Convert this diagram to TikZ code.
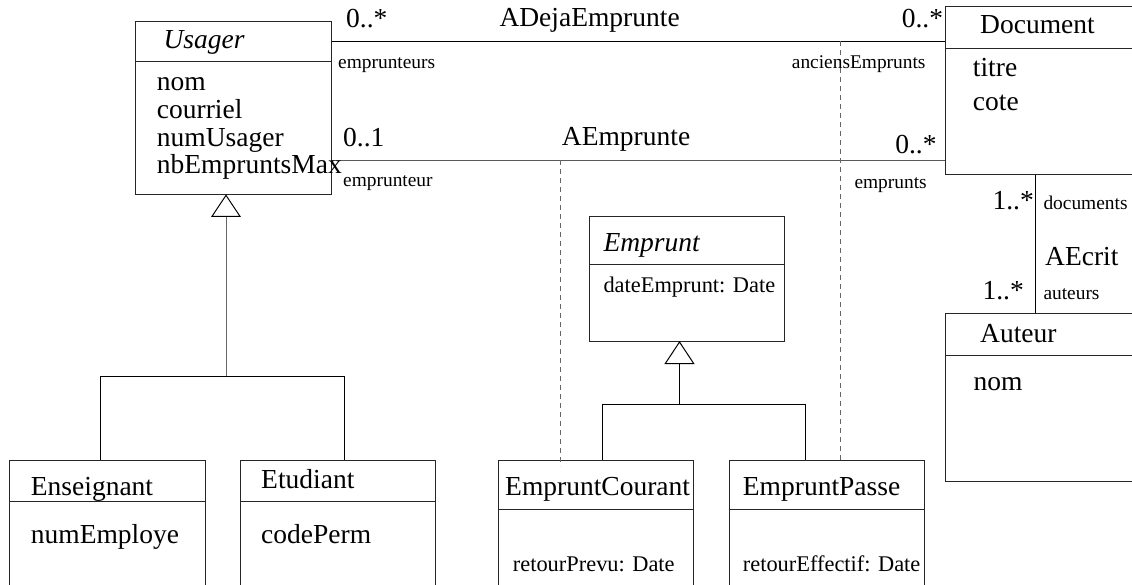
\documentclass[tikz,border=0pt]{standalone}
\usepackage{fontspec}
\setmainfont{Liberation Serif}
\newcommand\fbig{\fontsize{27.5}{30}\selectfont}
\newcommand\fmed{\fontsize{22.4}{25}\selectfont}
\newcommand\fsmall{\fontsize{19.4}{22}\selectfont}
\tikzset{
  umlbox/.style={draw=black!85, line width=1pt, inner sep=0pt, anchor=north west},
  hdr/.style={draw=black!85, line width=1pt},
  txt/.style={inner sep=0pt, anchor=base west, font=\fbig},
  itxt/.style={inner sep=0pt, anchor=base west, font=\fbig\itshape},
  mtxt/.style={inner sep=0pt, anchor=base west, font=\fmed},
  lbl/.style={inner sep=0pt, anchor=base west, font=\fsmall},
  assoc/.style={draw=black, line width=1pt},
  assocg/.style={draw=black!65, line width=1pt},
  dep/.style={draw=black!60, line width=1pt, dash pattern=on 5pt off 4pt},
  genl/.style={draw=black, line width=1pt},
  geng/.style={draw=black!60, line width=1pt},
}
\begin{document}
\begin{tikzpicture}[x=1pt,y=-1pt]
\useasboundingbox (0,0) rectangle (1132,584);
\fill[white] (0,0) rectangle (1132,584);
\clip (0,0) rectangle (1132,584);

% boxes
\node[umlbox, minimum width=195.7pt, minimum height=173.6pt] (usager) at (135,20.7) {};
\node[umlbox, minimum width=220pt, minimum height=167.5pt] (document) at (945,6) {};
\node[umlbox, minimum width=220pt, minimum height=167.7pt] (auteur) at (945,313.3) {};
\node[umlbox, minimum width=195.3pt, minimum height=125.3pt] (emprunt) at (589,215.7) {};
\node[umlbox, minimum width=195.7pt, minimum height=150pt] (enseignant) at (9.3,460) {};
\node[umlbox, minimum width=195pt, minimum height=150pt] (etudiant) at (240,460) {};
\node[umlbox, minimum width=195pt, minimum height=150pt] (courant) at (498.3,460) {};
\node[umlbox, minimum width=195.3pt, minimum height=150pt] (passe) at (728.7,460) {};

% header separators
\draw[hdr] (usager.west |- 0,61.7) -- (usager.east |- 0,61.7);
\draw[hdr] (document.west |- 0,48.3) -- (document.east |- 0,48.3);
\draw[hdr] (auteur.west |- 0,355) -- (auteur.east |- 0,355);
\draw[hdr] (emprunt.west |- 0,264.3) -- (emprunt.east |- 0,264.3);
\draw[hdr] (enseignant.west |- 0,501.7) -- (enseignant.east |- 0,501.7);
\draw[hdr] (etudiant.west |- 0,501.7) -- (etudiant.east |- 0,501.7);
\draw[hdr] (courant.west |- 0,509.3) -- (courant.east |- 0,509.3);
\draw[hdr] (passe.west |- 0,509.3) -- (passe.east |- 0,509.3);

% associations
\coordinate (adA) at (usager.east |- 0,41.3);
\coordinate (adB) at (document.west |- 0,41.3);
\coordinate (aeA) at (usager.east |- 0,160);
\coordinate (aeB) at (document.west |- 0,160);
\draw[assoc] (adA) -- (adB);
\draw[assocg] (aeA) -- (aeB);
\draw[assoc] (document.south -| 1035.5,0) -- (auteur.north -| 1035.5,0);

% association classes (dashed)
\coordinate (d1) at (560.7,160);
\coordinate (d1e) at (560.7,466);
\coordinate (d2) at (840,41.3);
\draw[dep] (d1) -- (d1e);
\draw[dep] (d2) -- (passe.north -| d2);

% generalization Usager
\coordinate (ua) at (usager.south -| 226,0);
\coordinate (ub) at (226,215.5);
\coordinate (uj) at (226,376);
\draw[geng] (ub) -- (uj);
\draw[genl] (enseignant.north -| 100,0) -- (100,376) -- (344.3,376) -- (etudiant.north -| 344.3,0);
\draw[genl, fill=white] (ua) -- ++(-14,21) -- ++(28,0) -- cycle;

% generalization Emprunt
\coordinate (ea) at (emprunt.south -| 679.5,0);
\coordinate (eb) at (679.5,362.5);
\draw[genl] (eb) -- (679.5,404);
\draw[genl] (courant.north -| 602.7,0) -- (602.7,404) -- (805,404) -- (passe.north -| 805,0);
\draw[genl, fill=white] (ea) -- ++(-14.2,21.5) -- ++(28.4,0) -- cycle;

% Usager texts
\node[itxt] (tusager) at (163.3,48.3) {Usager};
\node[txt] (tnom) at (156.7,90) {nom};
\node[txt] (tcour) at (156.7,118.3) {courriel};
\node[txt] (tnum) at (156.7,146.7) {numUsager};
\node[txt] (tnb) at (156.7,173.3) {nbEmpruntsMax};

% association labels
\node[txt] (m1) at (346,27) {0..*};
\node[txt] (tadeja) at (499.3,26.7) {ADejaEmprunte};
\node[txt, anchor=base east] (m2) at (943.3,27) {0..*};
\node[lbl] (r1) at (338,68.3) {emprunteurs};
\node[lbl] (r2) at (791.7,68.3) {anciensEmprunts};
\node[txt] (m3) at (343,146.7) {0..1};
\node[txt] (tae) at (561.7,145.7) {AEmprunte};
\node[txt, anchor=base east] (m4) at (936.7,153.3) {0..*};
\node[lbl] (r3) at (343,186.7) {emprunteur};
\node[lbl] (r4) at (854.3,188.3) {emprunts};

% Document
\node[txt] (tdoc) at (980,33.3) {Document};
\node[txt] (ttitre) at (972.7,76) {titre};
\node[txt] (tcote) at (972.7,110) {cote};

% AEcrit
\node[txt, anchor=base east] (m5) at (1034,209.3) {1..*};
\node[lbl] (r5) at (1043.3,209.3) {documents};
\node[txt] (taecrit) at (1045,265) {AEcrit};
\node[txt, anchor=base east] (m6) at (1024,299.3) {1..*};
\node[lbl] (r6) at (1043.3,299.3) {auteurs};

% Auteur
\node[txt] (taut) at (980,342.7) {Auteur};
\node[txt] (tanom) at (973.3,390) {nom};

% Emprunt
\node[itxt] (temp) at (603.3,251) {Emprunt};
\node[mtxt] (tdate) at (603.3,292.7) {dateEmprunt: Date};

% subclasses
\node[txt] (tens) at (30.7,495) {Enseignant};
\node[txt] (tnume) at (30.7,543.3) {numEmploye};
\node[txt] (tetu) at (261,488.3) {Etudiant};
\node[txt] (tcode) at (261,543.3) {codePerm};
\node[txt] (tcourant) at (505,495.7) {EmpruntCourant};
\node[mtxt] (tprevu) at (512.7,571.7) {retourPrevu: Date};
\node[txt] (tpasse) at (742.7,495.7) {EmpruntPasse};
\node[mtxt] (teff) at (742.7,571.7) {retourEffectif: Date};
\end{tikzpicture}
\end{document}
